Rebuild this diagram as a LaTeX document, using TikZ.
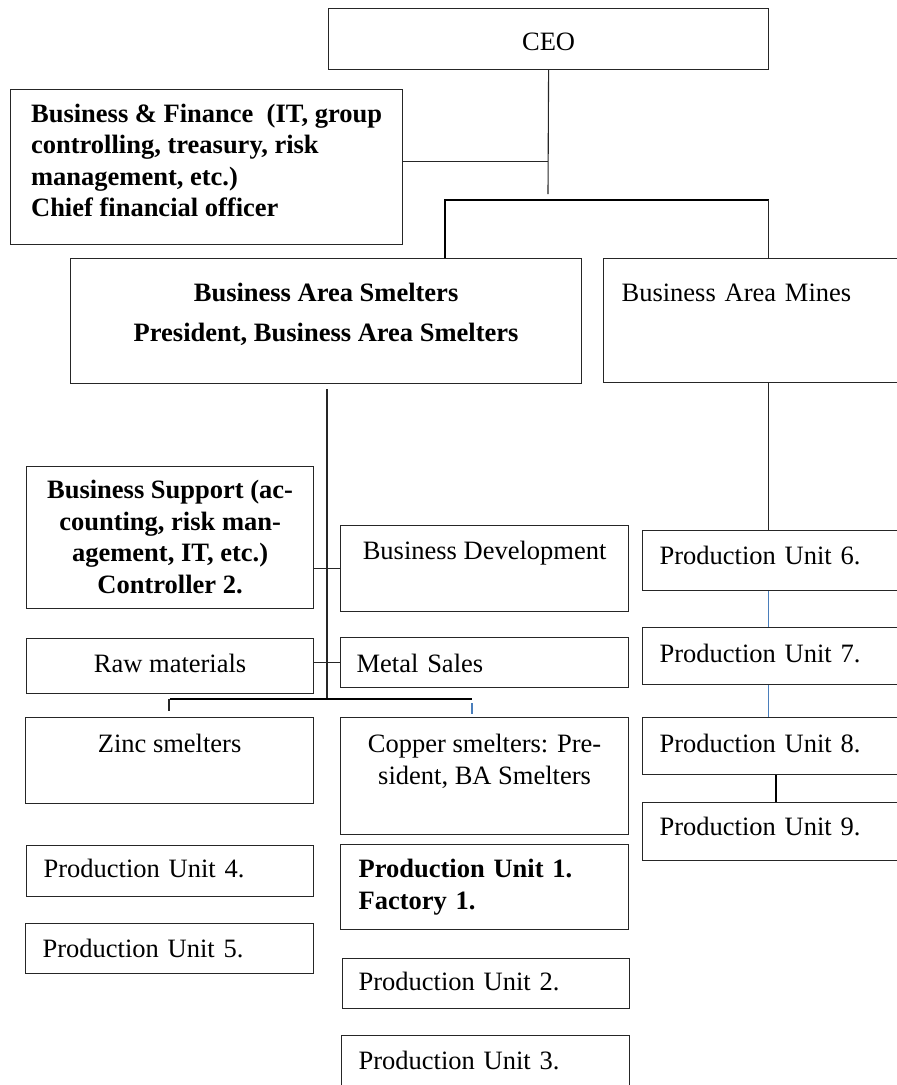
\documentclass[tikz,border=0pt]{standalone}
\usepackage{fontspec}
\setmainfont{Liberation Serif}
\usetikzlibrary{calc}
\definecolor{boxline}{HTML}{262626}
\definecolor{linkblue}{HTML}{4A7EBB}
\newcommand\chartfont{\fontsize{26.5}{31.5}\selectfont}
\tikzset{
  unit/.style={draw=boxline, line width=1.2pt, anchor=north west, inner sep=0pt, font=\chartfont},
  conn/.style={draw=boxline, line width=1.1pt},
  heavy/.style={draw=black, line width=2.2pt},
  bluelink/.style={draw=linkblue, line width=1.1pt},
}

\begin{document}
\begin{tikzpicture}[x=1pt, y=-1pt]
\clip (0,0) rectangle (897,1085);

% top level
\node[unit, minimum width=440pt, text height=42pt, text depth=19pt] (ceo) at (328,8) {CEO};
\node[unit, font=\chartfont\bfseries, align=left, minimum width=392pt,
      text height=127pt, text depth=28pt] (fin) at (10,89)
  {Business \& Finance\ \ (IT, group\\controlling, treasury, risk\\management, etc.)\\Chief financial officer};

% business areas
\node[unit, font=\chartfont\bfseries, align=center, minimum width=511pt, text height=82.5pt, text depth=42.5pt] (bas) at (70,258)
  {Business Area Smelters\\[8pt]President, Business Area Smelters};
\node[unit, align=left, inner xsep=18pt, text width=294pt, text height=43pt, text depth=81pt] (bam) at (603,258)
  {Business Area Mines};

% smelters side
\node[unit, font=\chartfont\bfseries, align=center, minimum width=287pt, text height=126.5pt, text depth=15.5pt] (bsup) at (26,466)
  {Business Support (ac-\\counting, risk man-\\agement, IT, etc.)\\Controller 2.};
\node[unit, minimum width=288pt, text height=34pt, text depth=52pt] (bdev) at (340,525) {Business Development};
\node[unit, minimum width=287pt, text height=34pt, text depth=21pt] (raw) at (26,638) {Raw materials};
\node[unit, align=left, inner xsep=16pt, text width=256pt, text height=35pt, text depth=15pt] (sales) at (340,637) {Metal Sales};
\node[unit, minimum width=288pt, text height=35pt, text depth=51pt] (zinc) at (25,717) {Zinc smelters};
\node[unit, align=center, minimum width=288pt, text height=66.5pt, text depth=50.5pt] (copper) at (340,717)
  {Copper smelters: Pre-\\sident, BA Smelters};

% production units under zinc and copper
\node[unit, align=left, inner xsep=17pt, text width=253pt, text height=32pt, text depth=19pt] (pu4) at (26,845) {Production Unit 4.};
\node[unit, align=left, inner xsep=17pt, text width=254pt, text height=34pt, text depth=16pt] (pu5) at (25,923) {Production Unit 5.};
\node[unit, font=\chartfont\bfseries, align=left, inner xsep=18pt, text width=252pt, text height=33pt, text depth=52pt] (pu1) at (340,844)
  {Production Unit 1.\\Factory 1.};
\node[unit, align=left, inner xsep=16pt, text width=255pt, text height=32pt, text depth=18pt] (pu2) at (342,958) {Production Unit 2.};
\node[unit, align=left, inner xsep=17pt, text width=254pt, text height=34pt, text depth=40pt] (pu3) at (341,1035) {Production Unit 3.};

% mines side
\node[unit, align=left, inner xsep=17pt, text width=266pt, text height=34pt, text depth=26pt] (pu6) at (642,530) {Production Unit 6.};
\node[unit, align=left, inner xsep=17pt, text width=266pt, text height=35pt, text depth=22pt] (pu7) at (642,627) {Production Unit 7.};
\node[unit, align=left, inner xsep=17pt, text width=266pt, text height=35pt, text depth=22pt] (pu8) at (642,717) {Production Unit 8.};
\node[unit, align=left, inner xsep=17pt, text width=266pt, text height=33pt, text depth=25pt] (pu9) at (642,802) {Production Unit 9.};

% connector points
\coordinate (split) at (548,194);
\coordinate (bar) at (445,200);
\coordinate (stem) at (327,389);
\coordinate (hub) at (327,699);
\coordinate (cu) at (472,699);
\coordinate (tap) at (776,0);

% lines from the CEO
\draw[conn] (ceo.south) -- (split);
\draw[conn] ([yshift=5.5pt]fin.east) -- ([yshift=5.5pt]fin.east -| split);
\draw[heavy] (bar |- bas.north) -- (bar) -- (bar -| bam.north);
\draw[conn] (bar -| bam.north) -- (bam.north);

% smelters tree
\draw[conn] (stem) -- (hub);
\draw[conn] (bsup.east |- bdev.west) -- (bdev.west);
\draw[conn] (raw.east |- sales.west) -- (sales.west);
\draw[heavy] (zinc.north |- hub) -- (cu);
\draw[conn, line width=2pt] ([xshift=-1pt]zinc.north |- hub) -- ++(0,12);
\draw[bluelink, line width=1.6pt] ([yshift=-4pt]cu) -- ++(0,11);

% mines column
\draw[conn] (bam.south) -- (bam.south |- pu6.north);
\draw[bluelink] (bam.south |- pu6.south) -- (bam.south |- pu7.north);
\draw[bluelink] (bam.south |- pu7.south) -- (bam.south |- pu8.north);
\draw[heavy] (tap |- pu8.south) -- (tap |- pu9.north);

\end{tikzpicture}
\end{document}
